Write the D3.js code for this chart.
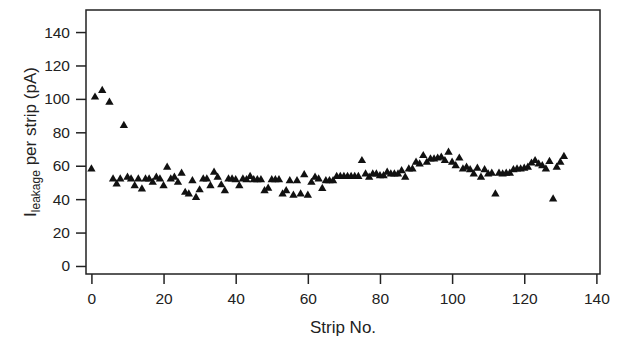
<!DOCTYPE html>
<html>
<head>
<meta charset="utf-8">
<script src="https://cdn.jsdelivr.net/npm/d3@7"></script>
<style>
  body { margin: 0; background: #fff; }
  text { font-family: "Liberation Sans", Arial, sans-serif; fill: #222; }
</style>
</head>
<body>
<svg id="chart" width="617" height="339"></svg>
<script>
// strip numbers and leakage current per strip (pA); strips 2 and 4 have no point
var strips = [0, 1, 3, 5, 6, 7, 8, 9, 10, 11, 12, 13, 14, 15, 16, 17, 18, 19, 20,
  21, 22, 23, 24, 25, 26, 27, 28, 29, 30, 31, 32, 33, 34, 35, 36, 37, 38, 39, 40,
  41, 42, 43, 44, 45, 46, 47, 48, 49, 50, 51, 52, 53, 54, 55, 56, 57, 58, 59, 60,
  61, 62, 63, 64, 65, 66, 67, 68, 69, 70, 71, 72, 73, 74, 75, 76, 77, 78, 79, 80,
  81, 82, 83, 84, 85, 86, 87, 88, 89, 90, 91, 92, 93, 94, 95, 96, 97, 98, 99, 100,
  101, 102, 103, 104, 105, 106, 107, 108, 109, 110, 111, 112, 113, 114, 115, 116,
  117, 118, 119, 120, 121, 122, 123, 124, 125, 126, 127, 128, 129, 130, 131];
var leakage = [58, 101, 105, 98, 52, 49, 52, 84, 53, 52, 48, 52, 46, 52, 52, 50, 53, 52, 48,
  59, 52, 53, 50, 55.5, 44, 43, 51, 41, 45.5, 52, 52, 48, 56, 53, 48.5, 45, 52, 52, 51.5,
  48, 52, 51.5, 53.5, 51.5, 51.5, 51.5, 45, 46.5, 51.5, 51.5, 51.5, 43, 45, 51, 42.3, 51, 43, 54.5, 42.3,
  50, 53, 52, 46.3, 51, 51, 51, 53.5, 53.5, 53.5, 53.5, 53.5, 53.5, 53.5, 63, 55, 53, 55, 55, 54,
  54, 56, 55, 55, 55, 57, 53, 58, 58, 62, 61, 66, 62, 64, 64, 64.5, 65, 63, 68, 62,
  60, 64.5, 58, 59, 57.5, 55, 58.5, 53, 57.5, 55, 55.5, 43, 55.5, 55, 55.5, 55.5,
  57.5, 58, 58, 58.5, 59, 61.5, 63, 61, 60, 58, 62.5, 40, 59, 62, 65.5];

var xTicks = [0, 20, 40, 60, 80, 100, 120, 140];
var yTicks = [0, 20, 40, 60, 80, 100, 120, 140];

var svg = d3.select("#chart");
var plotLeft = 86, plotRight = 600, plotTop = 10, plotBottom = 274;

var x = d3.scaleLinear().domain([-1.5, 141]).range([plotLeft, plotRight]);
var y = d3.scaleLinear().domain([-4.8, 153.2]).range([plotBottom, plotTop]);

var xAxis = svg.append("g")
  .attr("transform", "translate(0," + plotBottom + ")")
  .call(d3.axisBottom(x).tickValues(xTicks).tickSize(10).tickSizeOuter(0).tickPadding(9));
var yAxis = svg.append("g")
  .attr("transform", "translate(" + plotLeft + ",0)")
  .call(d3.axisLeft(y).tickValues(yTicks).tickSize(10).tickSizeOuter(0).tickPadding(6));

[xAxis, yAxis].forEach(function (g) {
  g.select(".domain").remove();
  g.selectAll(".tick line").attr("stroke", "#222").attr("stroke-width", 1.5);
  g.selectAll(".tick text").attr("font-size", 15.5).attr("fill", "#222")
    .attr("font-family", "Liberation Sans, Arial, sans-serif");
});

svg.append("rect")
  .attr("x", plotLeft).attr("y", plotTop)
  .attr("width", plotRight - plotLeft).attr("height", plotBottom - plotTop)
  .attr("fill", "none").attr("stroke", "#222").attr("stroke-width", 1.5);

var points = strips.map(function (s, i) { return { s: s, v: leakage[i] }; });

svg.append("g").selectAll("path")
  .data(points)
  .enter()
  .append("path")
  .attr("d", d3.symbol().type(d3.symbolTriangle).size(30))
  .attr("transform", function (d) {
    return "translate(" + x(d.s) + "," + y(d.v) + ")";
  })
  .attr("fill", "#111");

svg.append("text")
  .attr("x", (plotLeft + plotRight) / 2)
  .attr("y", 333)
  .attr("text-anchor", "middle")
  .attr("font-size", 17)
  .text("Strip No.");

var ylab = svg.append("text")
  .attr("transform", "translate(36," + (plotTop + plotBottom) / 2 + ") rotate(-90)")
  .attr("text-anchor", "middle")
  .attr("font-size", 17);
ylab.append("tspan").text("I");
ylab.append("tspan").attr("font-size", 12).attr("dy", 4).text("leakage");
ylab.append("tspan").attr("dy", -4).text(" per strip (pA)");
</script>
</body>
</html>
